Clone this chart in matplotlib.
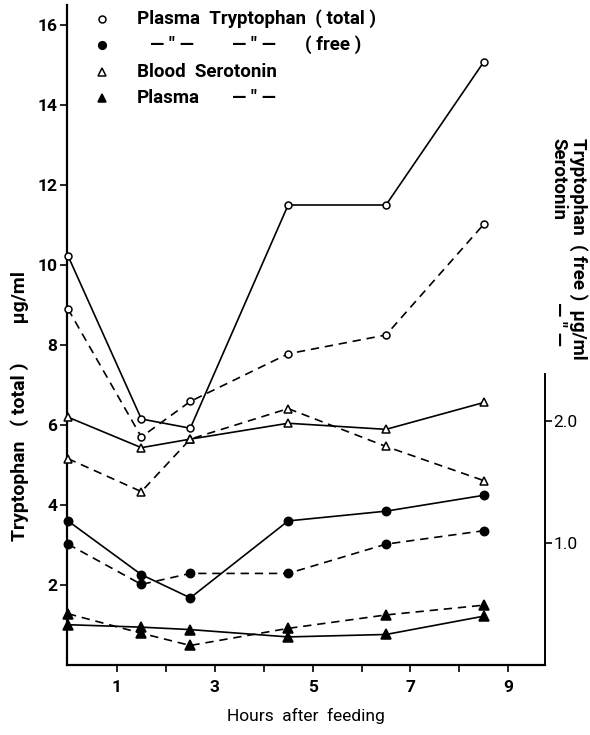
import matplotlib
matplotlib.use("Agg")
import matplotlib.pyplot as plt
from matplotlib.lines import Line2D

FONT = ['Roboto', 'DejaVu Sans']
plt.rcParams['font.family'] = FONT

hours = [0, 1.5, 2.5, 4.5, 6.5, 8.5]

# left axis: Tryptophan (total) ug/ml
trp_total_solid = [10.23, 6.15, 5.92, 11.50, 11.50, 15.08]
trp_total_dashed = [8.90, 5.70, 6.59, 7.78, 8.25, 11.02]
# right axis: Tryptophan (free) ug/ml / Serotonin ug/ml
trp_free_solid = [1.18, 0.74, 0.55, 1.18, 1.26, 1.39]
trp_free_dashed = [0.99, 0.66, 0.75, 0.75, 0.99, 1.10]
blood_ser_solid = [2.03, 1.78, 1.85, 1.98, 1.93, 2.15]
blood_ser_dashed = [1.69, 1.42, 1.85, 2.10, 1.79, 1.51]
plasma_ser_solid = [0.33, 0.31, 0.29, 0.23, 0.25, 0.40]
plasma_ser_dashed = [0.42, 0.26, 0.16, 0.30, 0.41, 0.49]

left_ticks = [2, 4, 6, 8, 10, 12, 14, 16]
right_ticks = [1.0, 2.0]
right_tick_labels = ['1.0', '2.0']
x_ticks = [1, 2, 3, 4, 5, 6, 7, 8, 9]
x_tick_labels = ['1', '', '3', '', '5', '', '7', '', '9']

fig = plt.figure(figsize=(5.9, 7.35), dpi=100)
ax = fig.add_axes([67/590, 1-665/735, (545-67)/590, (665-5)/735])
ax2 = ax.twinx()

LW = 1.2
DASH = (0, (5, 3.5))
K = 'black'

def draw(a, y, marker, filled, dashed, ms):
    a.plot(hours, y, color=K, lw=LW, linestyle=DASH if dashed else '-',
           marker=marker, ms=ms, mew=1.1,
           mfc=K if filled else 'white', mec=K, clip_on=False, zorder=3)

draw(ax, trp_total_solid, 'o', False, False, 5)
draw(ax, trp_total_dashed, 'o', False, True, 5)
draw(ax2, trp_free_solid, 'o', True, False, 6)
draw(ax2, trp_free_dashed, 'o', True, True, 6)
draw(ax2, blood_ser_solid, '^', False, False, 6)
draw(ax2, blood_ser_dashed, '^', False, True, 6)
draw(ax2, plasma_ser_solid, '^', True, False, 6.5)
draw(ax2, plasma_ser_dashed, '^', True, True, 6.5)

ymax_left = 16.5
ax.set_ylim(0, ymax_left)
ax2.set_ylim(0, ymax_left * 40.1 / 122.4)
ax.set_xlim(-0.02, 9.75)

for s in ['top', 'right']:
    ax.spines[s].set_visible(False)
for s in ['top', 'left', 'bottom']:
    ax2.spines[s].set_visible(False)
ax.spines['left'].set_linewidth(1.6)
ax.spines['bottom'].set_linewidth(1.6)
ax2.spines['right'].set_linewidth(1.4)
ax2.spines['right'].set_bounds(0, 2.38)

tfont = dict(family=FONT, size=12.5, weight='bold')
ax.set_yticks(left_ticks)
ax.set_yticklabels([str(t) for t in left_ticks], fontdict=tfont)
ax.set_xticks(x_ticks)
ax.set_xticklabels(x_tick_labels, fontdict=tfont)
ax.tick_params(axis='both', direction='out', length=5, width=1.2, pad=2)
ax.tick_params(axis='x', pad=6)
ax2.set_yticks(right_ticks)
ax2.set_yticklabels(right_tick_labels, fontdict=dict(family=FONT, size=12.5))
ax2.tick_params(axis='y', direction='out', length=5, width=1.2, pad=1)

LBL = dict(fontsize=13.5, fontweight='bold')
ax.set_xlabel('Hours  after  feeding', labelpad=9, fontsize=12.5)
fig.text(20/590, 1-406/735, 'Tryptophan   ( total )        µg/ml', rotation=90,
         ha='center', va='center', fontsize=14, fontweight='bold')
fig.text(578/590, 1-138/735, 'Tryptophan  ( free )  µg/ml', rotation=-90,
         ha='center', va='top', **LBL)
fig.text(558/590, 1-138/735, 'Serotonin', rotation=-90,
         ha='center', va='top', **LBL)
fig.text(558/590, 1-302/735, '— " —', rotation=-90,
         ha='center', va='top', **LBL)

# legend block: (marker, filled, [(x_px, text), ...])
rows = [
    ('o', False, [(137, 'Plasma  Tryptophan  ( total )')]),
    ('o', True, [(150, '— " —'), (232, '— " —'), (305, '( free )')]),
    ('^', False, [(137, 'Blood  Serotonin')]),
    ('^', True, [(137, 'Plasma'), (232, '— " —')]),
]
row_y = [19, 45, 72, 98]
for (m, f, parts), yp in zip(rows, row_y):
    fy = 1 - yp/735
    fig.add_artist(Line2D([102/590], [fy], marker=m,
                          ms=5 if (m == 'o' and not f) else 5.5,
                          mfc=K if f else 'white', mec=K, mew=1.1, color=K,
                          transform=fig.transFigure))
    for xp, txt in parts:
        fig.text(xp/590, fy, txt, ha='left', va='center', **LBL)

fig.savefig('out.png', dpi=100)
